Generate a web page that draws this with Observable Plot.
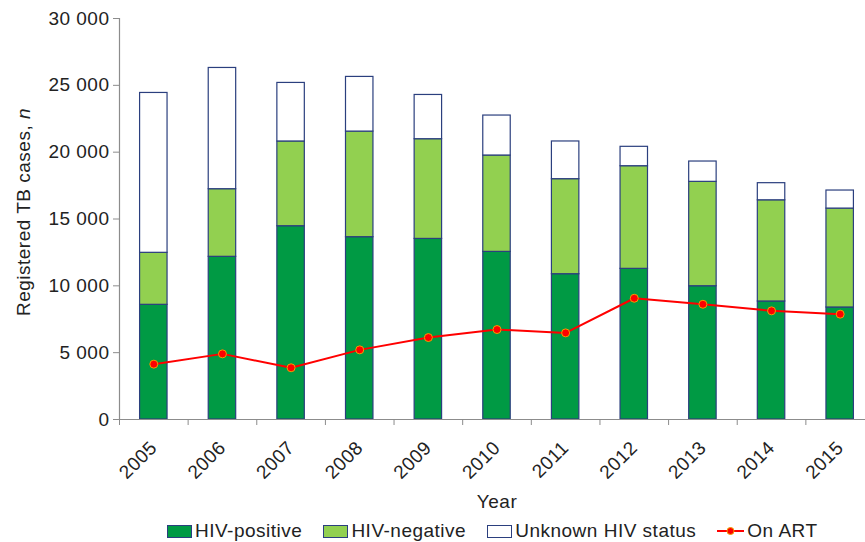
<!DOCTYPE html>
<html>
<head>
<meta charset="utf-8">
<script src="https://cdn.jsdelivr.net/npm/d3@7"></script>
<script src="https://cdn.jsdelivr.net/npm/@observablehq/plot@0.6"></script>
<style>
  html, body { margin: 0; padding: 0; background: #fff; }
  #wrap { position: relative; width: 865px; height: 542px; font-family: "Liberation Sans", Arial, sans-serif; }
  #legend { position: absolute; left: 167px; top: 519px; display: flex; align-items: center; gap: 21px;
            font-size: 19px; letter-spacing: 0.5px; color: #222; line-height: 24px; }
  .item { display: flex; align-items: center; gap: 3px; }
  .sw { width: 23px; height: 11px; border: 1px solid #2B3F7E; }
</style>
</head>
<body>
<div id="wrap">
  <div id="chart"></div>
  <div id="legend"></div>
</div>
<script>
const years = [2005, 2006, 2007, 2008, 2009, 2010, 2011, 2012, 2013, 2014, 2015];
const hivPositive = [8580, 12170, 14460, 13640, 13510, 12540, 10870, 11270, 9970, 8830, 8380];
const hivNegative = [3890, 5060, 6340, 7900, 7460, 7210, 7110, 7680, 7810, 7570, 7400];
const unknownStatus = [11960, 9070, 4380, 4090, 3310, 2990, 2820, 1450, 1520, 1280, 1350];
const onART = [4140, 4910, 3870, 5210, 6130, 6730, 6480, 9070, 8620, 8130, 7880];
const categories = ["HIV-positive", "HIV-negative", "Unknown HIV status"];
const colors = ["#009A44", "#92D050", "#FFFFFF"];
const yTicks = [0, 5000, 10000, 15000, 20000, 25000, 30000];

// stacked table built from the arrays
const series = [hivPositive, hivNegative, unknownStatus];
const rows = [];
years.forEach((yr, i) => {
  let base = 0;
  series.forEach((s, k) => {
    rows.push({year: yr, cat: categories[k], y1: base, y2: base + s[i]});
    base += s[i];
  });
});
const artRows = years.map((yr, i) => ({year: yr, value: onART[i]}));
const boundaries = years.map(y => y - 0.5).concat([years[years.length - 1] + 0.5]);

const fmt = d => d3.format(",")(d).replace(/,/g, " ");

const chart = Plot.plot({
  width: 865,
  height: 515,
  marginLeft: 119,
  marginRight: -9,
  marginTop: 18,
  marginBottom: 96,
  style: {fontFamily: "Liberation Sans, Arial, sans-serif", fontSize: "19px", letterSpacing: "0.5px", color: "#222", background: "#fff"},
  x: {domain: [years[0] - 0.5, years[years.length - 1] + 0.5]},
  y: {domain: [0, 30000]},
  color: {domain: categories, range: colors},
  marks: [
    Plot.rectY(rows, {x1: d => d.year - 0.2, x2: d => d.year + 0.2, y1: "y1", y2: "y2",
                      fill: "cat", stroke: "#2B3F7E", strokeWidth: 1.2}),
    Plot.ruleY([0], {stroke: "#8c8c8c", strokeWidth: 1.2}),
    Plot.frame({anchor: "left", stroke: "#8c8c8c", strokeWidth: 1.2}),
    Plot.axisY({ticks: yTicks, tickFormat: fmt, tickSize: 6, tickPadding: 4, stroke: "#8c8c8c",
                label: "Registered TB cases, n", labelAnchor: "center", labelArrow: "none", labelOffset: 103}),
    Plot.axisX({ticks: boundaries, tickFormat: () => "", tickSize: 6, stroke: "#8c8c8c", label: null}),
    Plot.axisX({ticks: years, tickFormat: d => String(d), tickSize: 0, tickPadding: 25, tickRotate: -45,
                label: "Year", labelAnchor: "center", labelArrow: "none", labelOffset: 88}),
    Plot.line(artRows, {x: "year", y: "value", stroke: "#FF0000", strokeWidth: 2}),
    Plot.dot(artRows, {x: "year", y: "value", r: 4, fill: "#FF0000", stroke: "#F0A000", strokeWidth: 1})
  ]
});
document.getElementById("chart").appendChild(chart);

// italic "n" in y label
d3.select(chart).selectAll("text").each(function() {
  const t = d3.select(this);
  if (t.text() === "Registered TB cases, n") {
    t.text(null);
    t.append("tspan").attr("dx", 7).text("Registered TB cases, ");
    t.append("tspan").attr("font-style", "italic").text("n");
  }
});

// legend
const legend = d3.select("#legend");
categories.forEach((c, k) => {
  const it = legend.append("div").attr("class", "item");
  it.append("div").attr("class", "sw").style("background", colors[k]);
  it.append("span").text(c);
});
const art = legend.append("div").attr("class", "item");
const s = art.append("svg").attr("width", 27).attr("height", 14);
s.append("line").attr("x1", 0).attr("x2", 27).attr("y1", 7).attr("y2", 7).attr("stroke", "#FF0000").attr("stroke-width", 2);
s.append("circle").attr("cx", 13.5).attr("cy", 7).attr("r", 3.5).attr("fill", "#FF0000").attr("stroke", "#F0A000");
art.append("span").text("On ART");
</script>
</body>
</html>
